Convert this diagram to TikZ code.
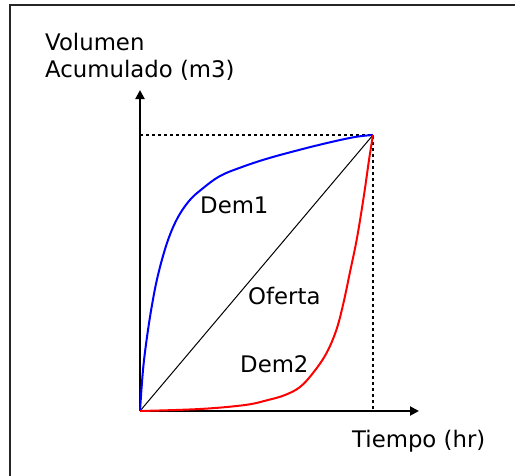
\documentclass[tikz,border=0pt]{standalone}
\usepackage{fontspec}
\setmainfont{DejaVu Sans}
\usetikzlibrary{arrows.meta}
\tikzset{
  lbl/.style={anchor=base west, inner sep=0pt, font=\fontsize{22.8}{27}\selectfont},
  axisline/.style={line width=2pt, -{Triangle[length=9pt,width=9pt]}},
  guide/.style={line width=1.6pt, dash pattern=on 3pt off 3pt},
  demone/.style={line width=2pt, color=blue},
  demtwo/.style={line width=2pt, color=red},
  supply/.style={line width=1pt, color=black}
}
\begin{document}
\begin{tikzpicture}[x=1pt,y=-1pt]
\useasboundingbox (0,0) rectangle (515,475);
\fill[white] (0,0) rectangle (515,475);
% frame
\draw[line width=2pt, color=black!85] (10,476) -- (10,5) -- (516,5);
% key points
\coordinate (O) at (140,411);
\coordinate (T) at (373,135);
\coordinate (Ytop) at (140,90);
\coordinate (Xend) at (419,411);
\coordinate (Yt) at (140,135);
\coordinate (Xt) at (373,411);
% guides
\draw[guide] (Yt) -- (T) -- (Xt);
% axes
\draw[axisline] (O) -- (Ytop);
\draw[axisline] (O) -- (Xend);
% supply
\draw[supply] (O) -- (T);
% demand 1
\draw[demone] plot[smooth, tension=0.6] coordinates {(140,411) (143,370) (147,337) (152,305) (158,275) (167,243) (177,219) (189,201) (202,189) (220,176) (242,167) (266,159) (295,151) (327,143) (355,137) (373,135)};
% demand 2
\draw[demtwo] plot[smooth, tension=0.6] coordinates {(140,411) (200,409) (245,405) (268,400) (285,395) (300,387) (313,373) (326,354) (336,331) (343,305) (350,272) (357,238) (364,195) (369,160) (373,135)};
% labels
\node[lbl] (vol) at (45,50) {Volumen};
\node[lbl] (acu) at (45,77) {Acumulado (m3)};
\node[lbl] (d1) at (200,213) {Dem1};
\node[lbl] (of) at (248,304) {Oferta};
\node[lbl] (d2) at (240,372) {Dem2};
\node[lbl] (tie) at (352,447) {Tiempo (hr)};
\end{tikzpicture}
\end{document}
